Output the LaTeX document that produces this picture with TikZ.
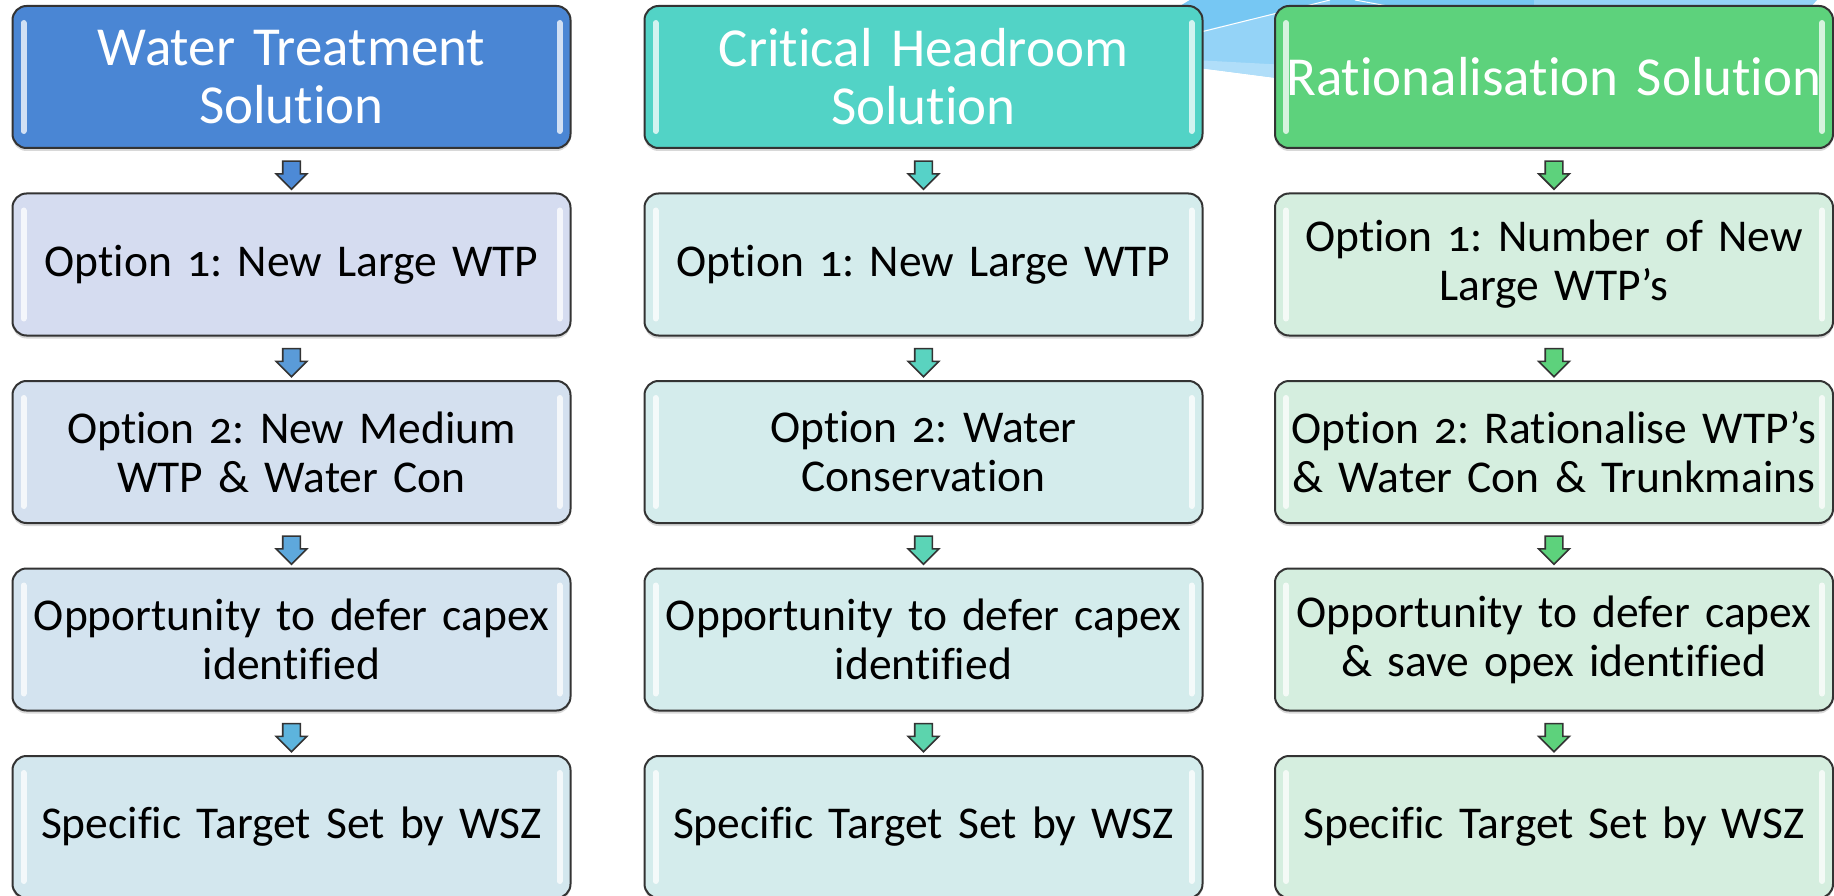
\documentclass[tikz,border=0pt]{standalone}
\usepackage{fontspec}
\setmainfont{Carlito}[Numbers=OldStyle, Ligatures={NoCommon,NoRequired,NoContextual}]
\usetikzlibrary{shapes.arrows,shadows,calc}
\frenchspacing

\newcommand\headfont{\fontsize{55}{58}\selectfont\spaceskip=.19em plus .05em\relax}
\newcommand\optfont{\fontsize{45.5}{49}\selectfont\spaceskip=.19em plus .05em\relax}

\definecolor{wtblue}{HTML}{4A86D4}
\definecolor{chteal}{HTML}{52D3C6}
\definecolor{rsgreen}{HTML}{5DD27C}
\definecolor{wtbodyA}{HTML}{D5DCF0}
\definecolor{wtbodyB}{HTML}{D4E0EF}
\definecolor{wtbodyC}{HTML}{D3E3EF}
\definecolor{wtbodyD}{HTML}{D3E7EE}
\definecolor{chbody}{HTML}{D4ECEC}
\definecolor{rsbody}{HTML}{D5EEDF}
\definecolor{wtarrA}{HTML}{4D8AD6}
\definecolor{wtarrB}{HTML}{5A9BD8}
\definecolor{wtarrC}{HTML}{5EA8DC}
\definecolor{wtarrD}{HTML}{5DB4DD}
\definecolor{charrA}{HTML}{56D2C8}
\definecolor{charrB}{HTML}{5AD3BF}
\definecolor{charrC}{HTML}{5BD4B6}
\definecolor{charrD}{HTML}{5CD4AD}
\definecolor{skyray}{HTML}{94D3F7}
\definecolor{skydark}{HTML}{76C7F3}
\definecolor{skylight}{HTML}{B0DEF9}

\tikzset{
  solbox/.style={draw=black!80, line width=2pt, rounded corners=14pt,
    minimum width=558pt, minimum height=142pt, text width=550pt, inner xsep=4pt,
    align=center, drop shadow={shadow xshift=0pt, shadow yshift=-3pt, opacity=.3},
    path picture={\draw[white, opacity=.75, line width=6pt, line cap=round]
      ([shift={(11pt,-17pt)}]path picture bounding box.north west) -- ([shift={(11pt,17pt)}]path picture bounding box.south west)
      ([shift={(-11pt,-17pt)}]path picture bounding box.north east) -- ([shift={(-11pt,17pt)}]path picture bounding box.south east);}},
  headbox/.style={solbox, text=white, font=\headfont},
  optbox/.style={solbox, font=\optfont},
  downarrow/.style={single arrow, draw=black!80, line width=1.6pt, rotate=-90,
    minimum height=28pt, inner xsep=0pt, inner ysep=8pt, single arrow head extend=6.5pt}
}

\begin{document}
\begin{tikzpicture}[x=1pt,y=-1pt]
  \useasboundingbox (0,0) rectangle (1834,896);
  \fill[white] (0,0) rectangle (1834,896);

  % light rays behind the top row
  \fill[skyray] (1100,55) -- (1190,0) -- (1817,0) -- (1790,30) -- (1400,94) -- cycle;
  \fill[skydark] (1100,55) -- (1190,0) -- (1330,0) -- cycle;
  \fill[skydark] (1330,0) rectangle (1534,6);
  \fill[skylight] (1100,55) -- (1400,71) -- (1400,94) -- cycle;
  \draw[white, line width=1pt] (1100,57) -- (1330,0);
  \draw[white, line width=1pt] (1355,0) -- (1420,12);

  % headers
  \node[headbox, fill=wtblue] (wt0) at (291.5,77) {Water Treatment\\Solution};
  \node[headbox, fill=chteal] (ch0) at (923.5,77) {Critical Headroom\\Solution};
  \node[headbox, fill=rsgreen] (rs0) at (1554,77) {Rationalisation Solution};

  % water treatment column
  \foreach \r/\c/\t in {1/wtbodyA/{Option 1: New Large WTP},
                        2/wtbodyB/{Option 2: New Medium\\WTP \& Water Con},
                        3/wtbodyC/{Opportunity to defer capex\\identified},
                        4/wtbodyD/{Specific Target Set by WSZ}}{
    \node[optbox, fill=\c] (wt\r) at (291.5,77+187.5*\r) {\t};
  }
  % critical headroom column
  \foreach \r/\t in {1/{Option 1: New Large WTP},
                     2/{Option 2: Water\\Conservation},
                     3/{Opportunity to defer capex\\identified},
                     4/{Specific Target Set by WSZ}}{
    \node[optbox, fill=chbody] (ch\r) at (923.5,77+187.5*\r) {\t};
  }
  % rationalisation column
  \foreach \r/\t in {1/{Option 1: Number of New\\Large WTP’s},
                     2/{Option 2: Rationalise WTP’s\\\& Water Con \& Trunkmains},
                     3/{Opportunity to defer capex\\\& save opex identified},
                     4/{Specific Target Set by WSZ}}{
    \node[optbox, fill=rsbody] (rs\r) at (1554,77+187.5*\r) {\t};
  }

  % arrows between the boxes
  \foreach \r/\a/\b in {0/wtarrA/charrA,1/wtarrB/charrB,2/wtarrC/charrC,3/wtarrD/charrD}{
    \pgfmathtruncatemacro\n{\r+1}
    \node[downarrow, fill=\a] (wa\r) at ($(wt\r.south)!.5!(wt\n.north)$) {};
    \node[downarrow, fill=\b] (ca\r) at ($(ch\r.south)!.5!(ch\n.north)$) {};
    \node[downarrow, fill=rsgreen] (ra\r) at ($(rs\r.south)!.5!(rs\n.north)$) {};
  }
\end{tikzpicture}
\end{document}
